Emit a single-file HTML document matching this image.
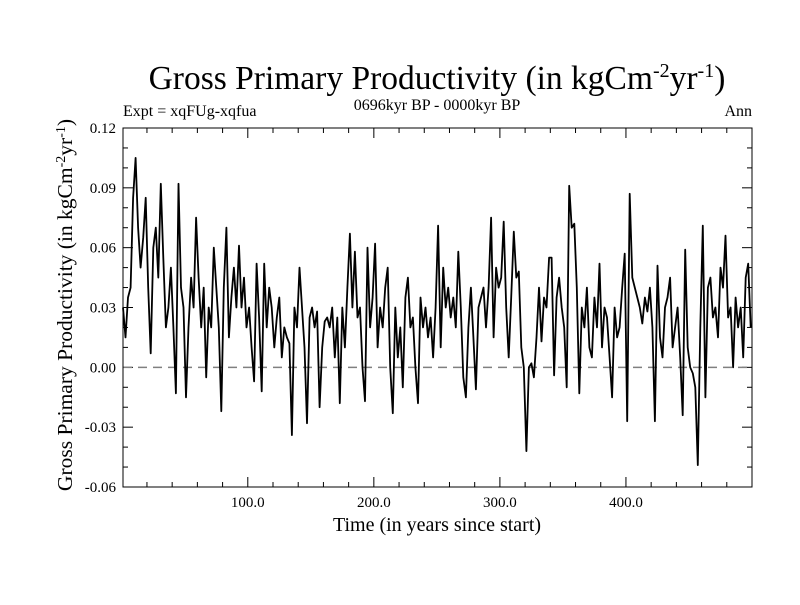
<!DOCTYPE html>
<html><head><meta charset="utf-8"><style>
body{margin:0;background:#fff}
svg text{font-family:"Liberation Serif",serif;fill:#000}
</style></head><body>
<svg id="c" width="800" height="600" xmlns="http://www.w3.org/2000/svg">
<text x="437" y="89" font-size="33.5" text-anchor="middle">Gross Primary Productivity (in kgCm<tspan dy="-12" font-size="20">-2</tspan><tspan dy="12">yr</tspan><tspan dy="-12" font-size="20">-1</tspan><tspan dy="12">)</tspan></text>
<text x="123" y="116" font-size="16">Expt = xqFUg-xqfua</text>
<text x="437" y="110" font-size="16" text-anchor="middle">0696kyr BP - 0000kyr BP</text>
<text x="752" y="116" font-size="16" text-anchor="end">Ann</text>
<text x="437" y="531" font-size="20" text-anchor="middle">Time (in years since start)</text>
<text transform="translate(72,305) rotate(-90)" font-size="21.5" text-anchor="middle">Gross Primary Productivity (in kgCm<tspan dy="-7" font-size="14">-2</tspan><tspan dy="7">yr</tspan><tspan dy="-7" font-size="14">-1</tspan><tspan dy="7">)</tspan></text>
<g id="axes"></g>
<g id="series"></g>
<rect x="123" y="128" width="629" height="359" fill="none" stroke="#000" stroke-width="1"/>
</svg>
<script>
const yTicks=[0.12,0.09,0.06,0.03,0.00,-0.03,-0.06];
const yTickLabels=["0.12","0.09","0.06","0.03","0.00","-0.03","-0.06"];
const xTicks=[100,200,300,400];
const xTickLabels=["100.0","200.0","300.0","400.0"];
const gpp=[0.03,0.015,0.035,0.04,0.085,0.105,0.07,0.05,0.065,0.085,
0.04,0.007,0.06,0.07,0.045,0.092,0.055,0.02,0.03,0.05,
0.02,-0.013,0.092,0.04,0.03,-0.015,0.02,0.045,0.03,0.075,
0.045,0.02,0.04,-0.005,0.03,0.02,0.06,0.04,0.02,-0.022,
0.04,0.07,0.015,0.035,0.05,0.03,0.061,0.03,0.045,0.02,
0.03,0.01,-0.007,0.052,0.025,-0.012,0.052,0.02,0.04,0.03,
0.01,0.025,0.035,0.005,0.02,0.015,0.012,-0.034,0.03,0.02,
0.05,0.03,0.01,-0.028,0.025,0.03,0.02,0.028,-0.02,0.01,
0.023,0.025,0.02,0.03,0.005,0.025,-0.018,0.03,0.01,0.04,
0.067,0.03,0.058,0.025,0.03,0.0,-0.017,0.06,0.02,0.035,
0.062,0.01,0.03,0.02,0.04,0.05,0.0,-0.023,0.03,0.005,
0.02,-0.01,0.035,0.045,0.02,0.025,0.0,-0.018,0.035,0.02,
0.03,0.015,0.025,0.005,0.03,0.071,0.01,0.05,0.03,0.04,
0.025,0.035,0.02,0.058,0.03,-0.005,-0.015,0.02,0.04,0.015,
-0.011,0.03,0.035,0.04,0.02,0.04,0.075,0.015,0.05,0.04,
0.045,0.073,0.03,0.005,0.035,0.068,0.045,0.048,0.01,0.0,
-0.042,0.0,0.002,-0.005,0.015,0.04,0.013,0.035,0.03,0.055,
0.055,-0.004,0.035,0.045,0.03,0.02,-0.01,0.091,0.07,0.072,
0.04,-0.013,0.03,0.02,0.04,0.01,0.005,0.035,0.02,0.052,
0.01,0.03,0.025,0.005,-0.015,0.03,0.015,0.02,0.04,0.057,
-0.027,0.087,0.045,0.04,0.035,0.03,0.022,0.035,0.028,0.04,
0.02,-0.027,0.051,0.015,0.005,0.03,0.035,0.045,0.01,0.02,
0.03,0.005,-0.024,0.059,0.01,0.0,-0.003,-0.01,-0.049,0.02,
0.071,-0.015,0.04,0.045,0.025,0.03,0.015,0.05,0.04,0.066,
0.025,0.03,0.0,0.035,0.02,0.03,0.005,0.045,0.052,0.02];
const L=123,R=752,T=128,B=487,X0=1,X1=500,Y0=-0.06,Y1=0.12;
const sx=v=>L+(v-X0)/(X1-X0)*(R-L);
const sy=v=>B-(v-Y0)/(Y1-Y0)*(B-T);
const NS="http://www.w3.org/2000/svg";
const ax=document.getElementById('axes'),se=document.getElementById('series');
function mk(t,a,p){const e=document.createElementNS(NS,t);for(const k in a)e.setAttribute(k,a[k]);p.appendChild(e);return e;}
for(let k=-6;k<=12;k++){const y=sy(k/100),maj=k%3===0,len=maj?10:5;
 const t1=mk('line',{x1:L,x2:L+len,y1:y,y2:y,stroke:'#000'},ax);
 
 
 const t2=mk('line',{x1:R,x2:R-len,y1:y,y2:y,stroke:'#000'},ax);
 
 }
yTicks.forEach((v,i)=>{const t=mk('text',{x:L-7,y:sy(v)+5,'font-size':15,'text-anchor':'end'},ax);t.textContent=yTickLabels[i];
 
 });
for(let v=20;v<=500;v+=20){const x=sx(v),maj=v%100===0,len=maj?10:5;
 const t1=mk('line',{x1:x,x2:x,y1:B,y2:B-len,stroke:'#000'},ax);
 
 
 const t2=mk('line',{x1:x,x2:x,y1:T,y2:T+len,stroke:'#000'},ax);
 
 }
xTicks.forEach((v,i)=>{const t=mk('text',{x:sx(v),y:B+20,'font-size':15,'text-anchor':'middle'},ax);t.textContent=xTickLabels[i];
 
 });
const z=mk('line',{x1:L,x2:R,y1:sy(0),y2:sy(0),stroke:'#808080','stroke-width':1.5,'stroke-dasharray':'9,6'},se);


const pts=gpp.map((v,i)=>sx(X0+i*2).toFixed(1)+','+sy(v).toFixed(1)).join(' ');
const pl=mk('polyline',{points:pts,fill:'none',stroke:'#000','stroke-width':1.8,'stroke-linejoin':'round'},se);


</script>
</body></html>
